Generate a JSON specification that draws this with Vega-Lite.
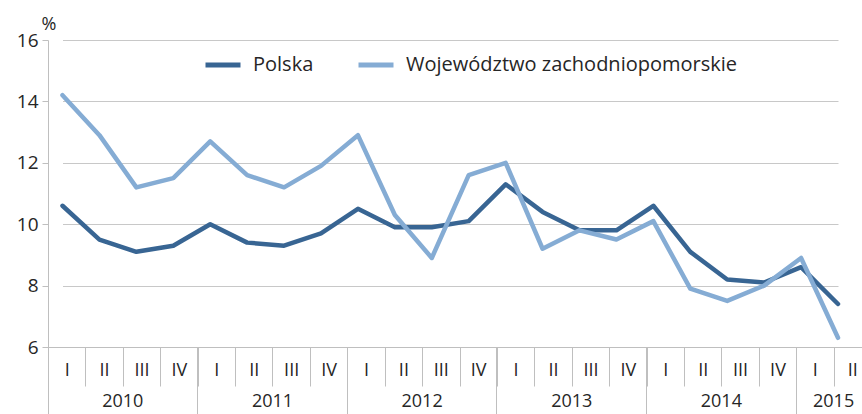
{
  "$schema": "https://vega.github.io/schema/vega-lite/v6.json",
  "width": 814,
  "height": 307,
  "autosize": {"type": "none"},
  "padding": {"left": 48, "top": 40, "right": 0, "bottom": 67},
  "background": "white",
  "config": {
    "font": "Open Sans",
    "view": {"stroke": null}
  },
  "data": {
    "values": [
      {"q": "2010 I", "s": "Polska", "v": 10.6}, {"q": "2010 I", "s": "Województwo zachodniopomorskie", "v": 14.2},
      {"q": "2010 II", "s": "Polska", "v": 9.5}, {"q": "2010 II", "s": "Województwo zachodniopomorskie", "v": 12.9},
      {"q": "2010 III", "s": "Polska", "v": 9.1}, {"q": "2010 III", "s": "Województwo zachodniopomorskie", "v": 11.2},
      {"q": "2010 IV", "s": "Polska", "v": 9.3}, {"q": "2010 IV", "s": "Województwo zachodniopomorskie", "v": 11.5},
      {"q": "2011 I", "s": "Polska", "v": 10.0}, {"q": "2011 I", "s": "Województwo zachodniopomorskie", "v": 12.7},
      {"q": "2011 II", "s": "Polska", "v": 9.4}, {"q": "2011 II", "s": "Województwo zachodniopomorskie", "v": 11.6},
      {"q": "2011 III", "s": "Polska", "v": 9.3}, {"q": "2011 III", "s": "Województwo zachodniopomorskie", "v": 11.2},
      {"q": "2011 IV", "s": "Polska", "v": 9.7}, {"q": "2011 IV", "s": "Województwo zachodniopomorskie", "v": 11.9},
      {"q": "2012 I", "s": "Polska", "v": 10.5}, {"q": "2012 I", "s": "Województwo zachodniopomorskie", "v": 12.9},
      {"q": "2012 II", "s": "Polska", "v": 9.9}, {"q": "2012 II", "s": "Województwo zachodniopomorskie", "v": 10.3},
      {"q": "2012 III", "s": "Polska", "v": 9.9}, {"q": "2012 III", "s": "Województwo zachodniopomorskie", "v": 8.9},
      {"q": "2012 IV", "s": "Polska", "v": 10.1}, {"q": "2012 IV", "s": "Województwo zachodniopomorskie", "v": 11.6},
      {"q": "2013 I", "s": "Polska", "v": 11.3}, {"q": "2013 I", "s": "Województwo zachodniopomorskie", "v": 12.0},
      {"q": "2013 II", "s": "Polska", "v": 10.4}, {"q": "2013 II", "s": "Województwo zachodniopomorskie", "v": 9.2},
      {"q": "2013 III", "s": "Polska", "v": 9.8}, {"q": "2013 III", "s": "Województwo zachodniopomorskie", "v": 9.8},
      {"q": "2013 IV", "s": "Polska", "v": 9.8}, {"q": "2013 IV", "s": "Województwo zachodniopomorskie", "v": 9.5},
      {"q": "2014 I", "s": "Polska", "v": 10.6}, {"q": "2014 I", "s": "Województwo zachodniopomorskie", "v": 10.1},
      {"q": "2014 II", "s": "Polska", "v": 9.1}, {"q": "2014 II", "s": "Województwo zachodniopomorskie", "v": 7.9},
      {"q": "2014 III", "s": "Polska", "v": 8.2}, {"q": "2014 III", "s": "Województwo zachodniopomorskie", "v": 7.5},
      {"q": "2014 IV", "s": "Polska", "v": 8.1}, {"q": "2014 IV", "s": "Województwo zachodniopomorskie", "v": 8.0},
      {"q": "2015 I", "s": "Polska", "v": 8.6}, {"q": "2015 I", "s": "Województwo zachodniopomorskie", "v": 8.9},
      {"q": "2015 II", "s": "Polska", "v": 7.4}, {"q": "2015 II", "s": "Województwo zachodniopomorskie", "v": 6.3}
    ]
  },
  "layer": [
    {
      "mark": {"type": "point", "opacity": 0},
      "encoding": {
        "x": {
          "field": "q", "type": "ordinal", "sort": null,
          "scale": {"type": "band", "paddingInner": 0, "paddingOuter": 0, "range": [0, 823]},
          "axis": {
            "title": null, "orient": "bottom", "bandPosition": 0,
            "values": ["2010 I", "2011 I", "2012 I", "2013 I", "2014 I", "2015 I"],
            "labels": false, "domain": false, "grid": false,
            "ticks": true, "tickSize": 67, "tickColor": "#bfbfbf", "tickWidth": 1
          }
        }
      }
    },
    {
      "mark": {"type": "point", "opacity": 0},
      "encoding": {
        "x": {
          "field": "q", "type": "ordinal", "sort": null,
          "scale": {"type": "band", "paddingInner": 0, "paddingOuter": 0, "range": [0, 823]},
          "axis": {
            "title": null, "orient": "bottom", "bandPosition": 0,
            "values": ["2010 III", "2011 III", "2012 III", "2013 III", "2014 III", "2015 II"],
            "labelExpr": "split(datum.value, ' ')[0]",
            "labelAngle": 0, "labelFontSize": 18, "labelColor": "#262626",
            "labelOffset": -18.7,
            "labelPadding": 45, "ticks": false, "domain": false, "grid": false
          }
        }
      }
    },
    {
      "mark": {"type": "point", "opacity": 0},
      "encoding": {
        "x": {
          "field": "q", "type": "ordinal", "sort": null,
          "scale": {"type": "band", "paddingInner": 0, "paddingOuter": 0, "range": [0, 823]},
          "axis": {
            "title": null, "orient": "bottom", "tickBand": "extent",
            "labelExpr": "split(datum.value, ' ')[1]",
            "labelAngle": 0, "labelFontSize": 18, "labelColor": "#262626",
            "tickSize": 39, "tickColor": "#bfbfbf", "tickWidth": 1,
            "labelPadding": -25,
            "domain": true, "domainColor": "#bfbfbf", "domainWidth": 1, "grid": false
          }
        }
      }
    },
    {
      "mark": {"type": "line", "strokeWidth": 4.5, "strokeCap": "round", "strokeJoin": "round"},
      "encoding": {
        "x": {
          "field": "q", "type": "ordinal", "sort": null,
          "scale": {"type": "point", "padding": 0, "range": [14.5, 790]},
          "axis": null
        },
        "y": {
          "field": "v", "type": "quantitative",
          "scale": {"domain": [6, 16], "nice": false, "zero": false},
          "axis": {
            "values": [6, 8, 10, 12, 14, 16],
            "title": "%", "titleAngle": 0, "titleAlign": "left", "titleBaseline": "alphabetic",
            "titleX": -7, "titleY": -11, "titleFontSize": 18, "titleFontWeight": "normal", "titleColor": "#262626",
            "labelFontSize": 19, "labelColor": "#262626", "labelPadding": 4,
            "tickSize": 6, "tickColor": "#bfbfbf",
            "domain": true, "domainColor": "#bfbfbf",
            "grid": true, "gridColor": "#c8c8c8", "gridWidth": 1
          }
        },
        "color": {
          "field": "s", "type": "nominal",
          "scale": {"domain": ["Polska", "Województwo zachodniopomorskie"], "range": ["#386593", "#85acd4"]},
          "legend": {
            "title": null, "orient": "none", "direction": "horizontal",
            "legendX": 155, "legendY": 5,
            "symbolType": "stroke", "symbolSize": 1225, "symbolStrokeWidth": 5,
            "labelFontSize": 20, "labelColor": "#262626", "labelOffset": 10, "labelLimit": 0,
            "columnPadding": 34
          }
        }
      }
    }
  ],
  "resolve": {"scale": {"x": "independent"}, "axis": {"x": "independent"}}
}
